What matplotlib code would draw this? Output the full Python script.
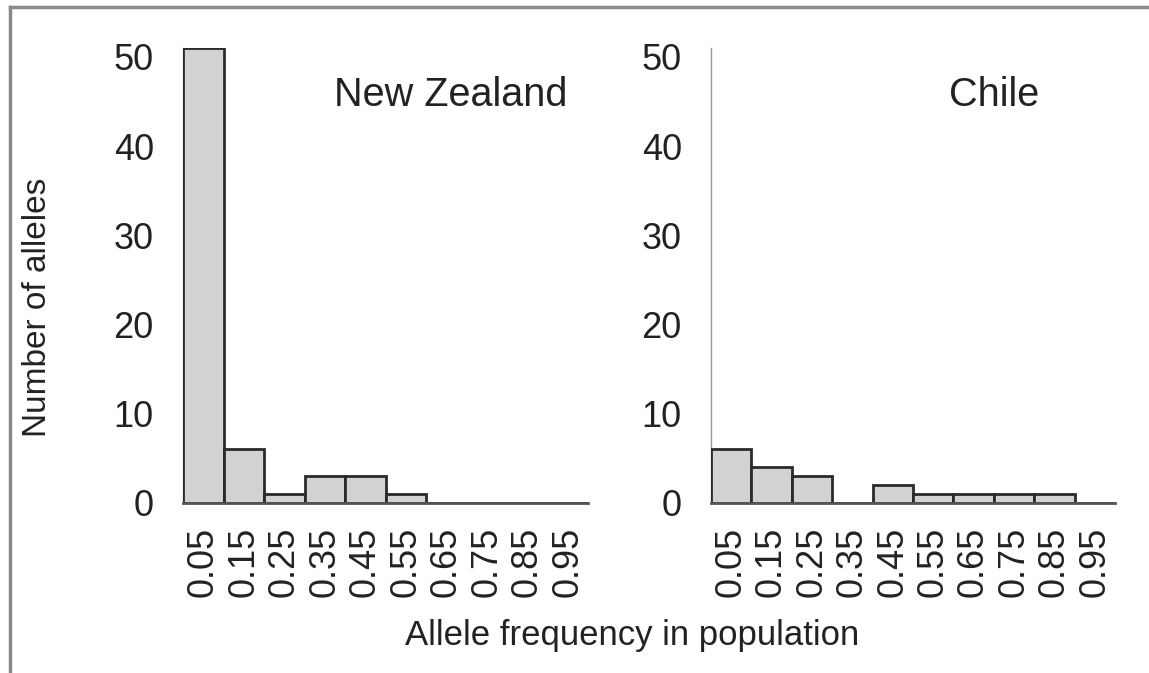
import numpy as np
import matplotlib.pyplot as plt
from matplotlib.lines import Line2D

plt.rcParams['font.family'] = ['Liberation Sans', 'DejaVu Sans']

# allele frequency bins (centres) and counts per population
bins = [0.05, 0.15, 0.25, 0.35, 0.45, 0.55, 0.65, 0.75, 0.85, 0.95]
bin_labels = ['0.05', '0.15', '0.25', '0.35', '0.45', '0.55', '0.65', '0.75', '0.85', '0.95']
nz_counts = [51, 6, 1, 3, 3, 1, 0, 0, 0, 0]
chile_counts = [6, 4, 3, 0, 2, 1, 1, 1, 1, 0]
panels = ['New Zealand', 'Chile']
yticks = [0, 10, 20, 30, 40, 50]

W, H = 1149, 673
fig = plt.figure(figsize=(W / 100, H / 100), dpi=100)

ax1 = fig.add_axes([183 / W, 1 - 503 / H, 405 / W, 455 / H])
ax2 = fig.add_axes([711 / W, 1 - 503 / H, 404 / W, 455 / H])

text_col = '#222222'
for ax, counts, name, tx in [(ax1, nz_counts, panels[0], 0.66), (ax2, chile_counts, panels[1], 0.70)]:
    ax.bar(bins, counts, width=0.1, color='#d1d2d4', edgecolor='#2a2a2a', linewidth=2, zorder=3)
    ax.set_xlim(0, 1)
    ax.set_ylim(0, 51)
    ax.set_yticks(yticks)
    ax.set_xticks(bins)
    ax.set_xticklabels(bin_labels, rotation=90)
    ax.tick_params(axis='both', length=0, labelsize=26, colors=text_col)
    ax.tick_params(axis='y', pad=21)
    ax.tick_params(axis='x', pad=17)
    for s in ['top', 'right']:
        ax.spines[s].set_visible(False)
    ax.spines['left'].set_color('#9a9a9a')
    ax.spines['left'].set_linewidth(1)
    ax.spines['bottom'].set_color('#555555')
    ax.spines['bottom'].set_linewidth(2)
    ax.spines['bottom'].set_zorder(4)
    ax.text(tx, 0.897, name, transform=ax.transAxes, ha='center', va='center',
            fontsize=28.5, color=text_col)

fig.text(38 / W, 1 - 307 / H, 'Number of alleles', rotation=90, ha='center', va='center',
         fontsize=24, color=text_col)
fig.text(632 / W, 1 - 635 / H, 'Allele frequency in population', ha='center', va='center',
         fontsize=25, color=text_col)

# outer frame (top and left edges visible)
fig.add_artist(Line2D([10 / W, 10 / W], [0, 1 - 7 / H], transform=fig.transFigure,
                      color='#8a8a8a', linewidth=2.5))
fig.add_artist(Line2D([10 / W, 1], [1 - 7 / H, 1 - 7 / H], transform=fig.transFigure,
                      color='#8a8a8a', linewidth=2.5))

fig.savefig('out.png', dpi=100)
